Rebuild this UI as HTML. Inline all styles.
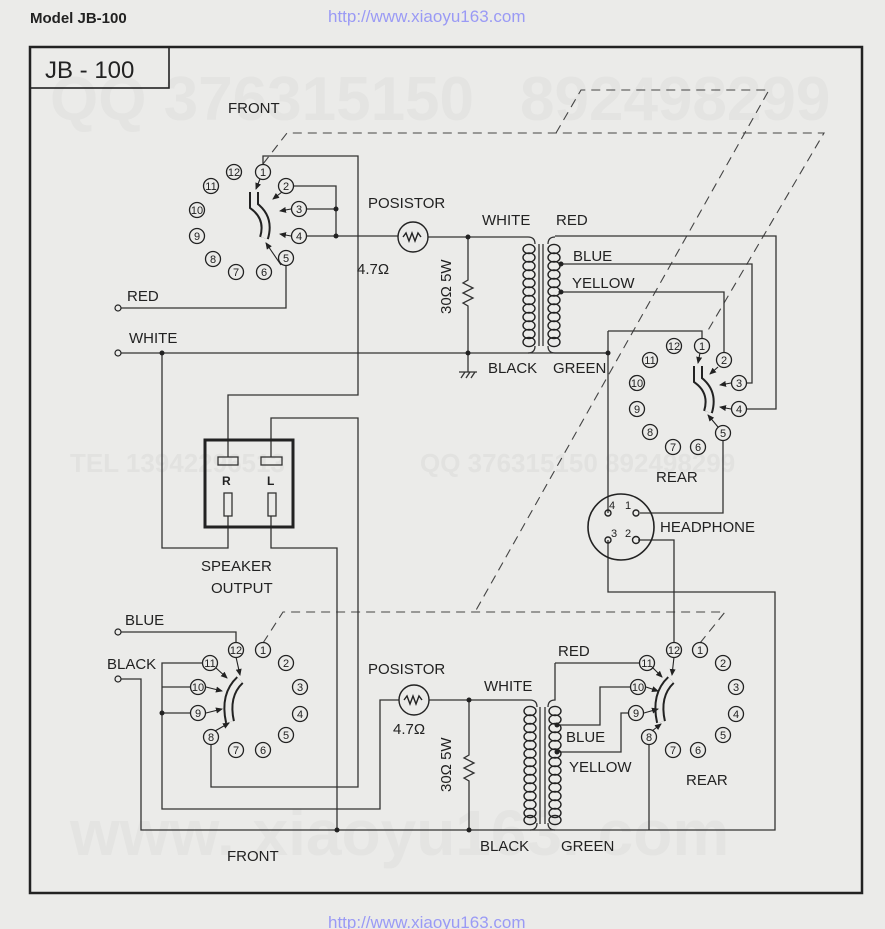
<!DOCTYPE html>
<html><head><meta charset="utf-8"><style>
html,body{margin:0;padding:0;background:#ebebe9;}
svg{display:block;}
text{font-family:"Liberation Sans Narrow","Liberation Sans",sans-serif;fill:#222;}
.l{font-size:15px;}
.p{font-size:11px;text-anchor:middle;}
</style></head><body>
<svg width="885" height="929" viewBox="0 0 885 929" xmlns="http://www.w3.org/2000/svg">
<defs>
<ellipse id="lp" rx="6" ry="4.6" fill="none" stroke="#222" stroke-width="1.4"/>
<g id="pin"><circle r="7.5" fill="none" stroke="#222" stroke-width="1.3"/></g>
<marker id="ah" markerWidth="8" markerHeight="8" refX="6" refY="3" orient="auto" markerUnits="userSpaceOnUse"><path d="M0,0 L7,3 L0,6 z" fill="#222"/></marker>
</defs>
<rect width="885" height="929" fill="#ebebe9"/>
<g font-weight="bold" font-family="Liberation Sans,sans-serif">
<text x="50" y="120" font-size="62" style="fill:#e4e4e2">QQ 376315150</text>
<text x="520" y="120" font-size="62" style="fill:#e4e4e2">892498299</text>
<text x="70" y="472" font-size="26" style="fill:#e2e2e0">TEL 13942296513</text>
<text x="420" y="472" font-size="26" style="fill:#e2e2e0">QQ 376315150  892498299</text>
<text x="70" y="855" font-size="64" style="fill:#e4e4e2">www. xiaoyu163. com</text>
</g>
<text x="30" y="23" style="font-family:'Liberation Sans',sans-serif;font-size:15px;font-weight:bold">Model JB-100</text>
<text x="328" y="22" style="font-family:'Liberation Sans',sans-serif;font-size:17px;fill:#9a9af5">http://www.xiaoyu163.com</text>
<text x="328" y="928" style="font-family:'Liberation Sans',sans-serif;font-size:17px;fill:#9a9af5">http://www.xiaoyu163.com</text>
<rect x="30" y="47" width="832" height="846" fill="none" stroke="#222" stroke-width="2.5"/>
<rect x="30" y="47" width="139" height="41" fill="none" stroke="#222" stroke-width="1.6"/>
<text x="45" y="78" style="font-size:24px">JB - 100</text>

<g fill="none" stroke="#333" stroke-width="1.3">
<g stroke-dasharray="9,6" stroke="#444" stroke-width="1.1">
<path d="M556,133 L581,90 L769,90 L475,612"/>
<path d="M263,164 L287,133 L824,133 L707,332"/>
<path d="M263,643 L283,612 L725,612 L700,643"/>
</g>
<path d="M263,165 V156 H358 V395 H228 V457"/>
<path d="M293,186 H336 V236"/>
<path d="M306,209 H336"/>
<path d="M306,236 H398"/>
<path d="M428,237 H528"/>
<path d="M286,265 V308 H121"/>
<path d="M121,353 H608"/>
<path d="M162,353 V548 H228 V516"/>
<path d="M271,457 V418 H358 V787 H211 V744"/>
<path d="M271,516 V548 H337 V830"/>
<path d="M468,237 V280 l-5,3 l10,5 l-10,5 l10,5 l-10,5 l5,3 V353"/>
<path d="M468,353 V372 M459,372 H477 M461,378 l4,-6 M466,378 l4,-6 M471,378 l4,-6"/>
<path d="M528,237 q7,0 7,7 M528,353 q7,0 7,-7"/>
<path d="M539,244 V346 M543,244 V346"/>
<path d="M555,237 q-7,0 -7,7 M555,353 q-7,0 -7,-7"/>
<path d="M555,236 H776 V409 H746"/>
<path d="M561,264 H752 V383 H746"/>
<path d="M561,292 H724 V353"/>
<path d="M555,353 H608"/>
<path d="M608,331 H702 V339"/>
<path d="M608,331 V513"/>
<path d="M723,440 V513 H640"/>
<path d="M608,540 V592 H775 V830 H555"/>
<path d="M638,540 H674 V643"/>
<rect x="205" y="440" width="88" height="87" stroke="#222" stroke-width="3"/>
<rect x="218" y="457" width="20" height="8"/>
<rect x="261" y="457" width="21" height="8"/>
<rect x="224" y="493" width="8" height="23"/>
<rect x="268" y="493" width="8" height="23"/>
<path d="M121,632 H236 V643"/>
<path d="M121,679 H141 V830 H337 M337,830 H555"/>
<path d="M203,663 H162 V809 H380 V700 H399"/>
<path d="M162,713 H191"/>
<path d="M162,687 H191"/>
<path d="M429,700 H530"/>
<path d="M469,700 V755 l-5,3 l10,5 l-10,5 l10,5 l-10,5 l5,3 V830"/>
<path d="M530,700 q7,0 7,7 M530,830 q7,0 7,-7"/>
<path d="M540,707 V824 M545,707 V824"/>
<path d="M555,663 V700 q-7,0 -7,7 M555,830 q-7,0 -7,-7"/>
<path d="M555,663 H640"/>
<path d="M557,725 H600 V687 H631"/>
<path d="M557,752 H621 V713 H629"/>
<path d="M649,744 V830"/>
</g>
<g fill="#222">
<circle cx="336" cy="209" r="2.5"/><circle cx="336" cy="236" r="2.5"/>
<circle cx="468" cy="237" r="2.5"/><circle cx="468" cy="353" r="2.5"/>
<circle cx="162" cy="353" r="2.5"/><circle cx="608" cy="353" r="2.5"/>
<circle cx="561" cy="264" r="2.5"/><circle cx="561" cy="292" r="2.5"/>
<circle cx="162" cy="713" r="2.5"/><circle cx="337" cy="830" r="2.5"/>
<circle cx="469" cy="700" r="2.5"/><circle cx="469" cy="830" r="2.5"/>
<circle cx="557" cy="725" r="2.5"/><circle cx="557" cy="752" r="2.5"/>
</g>
<g fill="#ebebe9" stroke="#222" stroke-width="1.2">
<circle cx="118" cy="308" r="3"/><circle cx="118" cy="353" r="3"/>
<circle cx="118" cy="632" r="3"/><circle cx="118" cy="679" r="3"/>
</g>
<g fill="none" stroke="#222" stroke-width="1.4">
<circle cx="413" cy="237" r="15"/><path d="M403,237 l3,-4 l3,8 l3,-8 l3,8 l3,-8 l3,4"/>
<circle cx="414" cy="700" r="15"/><path d="M404,700 l3,-4 l3,8 l3,-8 l3,8 l3,-8 l3,4"/>
<circle cx="621" cy="527" r="33" stroke-width="1.6"/>
<circle cx="608" cy="513" r="3"/><circle cx="636" cy="513" r="3"/>
<circle cx="608" cy="540" r="3"/><circle cx="636" cy="540" r="3.5"/>
</g>
<text x="612" y="509" class="p">4</text><text x="628" y="509" class="p">1</text>
<text x="614" y="537" class="p">3</text><text x="628" y="537" class="p">2</text>
<g>
<use href="#lp" x="529" y="249"/><use href="#lp" x="529" y="257.5"/><use href="#lp" x="529" y="266"/><use href="#lp" x="529" y="274.5"/><use href="#lp" x="529" y="283"/><use href="#lp" x="529" y="291.5"/><use href="#lp" x="529" y="300"/><use href="#lp" x="529" y="308.5"/><use href="#lp" x="529" y="317"/><use href="#lp" x="529" y="325.5"/><use href="#lp" x="529" y="334"/><use href="#lp" x="529" y="342"/>
<use href="#lp" x="554" y="249"/><use href="#lp" x="554" y="257.5"/><use href="#lp" x="554" y="266"/><use href="#lp" x="554" y="274.5"/><use href="#lp" x="554" y="283"/><use href="#lp" x="554" y="291.5"/><use href="#lp" x="554" y="300"/><use href="#lp" x="554" y="308.5"/><use href="#lp" x="554" y="317"/><use href="#lp" x="554" y="325.5"/><use href="#lp" x="554" y="334"/><use href="#lp" x="554" y="342"/>
<use href="#lp" x="530" y="711"/><use href="#lp" x="530" y="719.5"/><use href="#lp" x="530" y="728"/><use href="#lp" x="530" y="736.5"/><use href="#lp" x="530" y="745"/><use href="#lp" x="530" y="753.5"/><use href="#lp" x="530" y="762"/><use href="#lp" x="530" y="770.5"/><use href="#lp" x="530" y="779"/><use href="#lp" x="530" y="787.5"/><use href="#lp" x="530" y="796"/><use href="#lp" x="530" y="804.5"/><use href="#lp" x="530" y="813"/><use href="#lp" x="530" y="820"/>
<use href="#lp" x="555" y="711"/><use href="#lp" x="555" y="719.5"/><use href="#lp" x="555" y="728"/><use href="#lp" x="555" y="736.5"/><use href="#lp" x="555" y="745"/><use href="#lp" x="555" y="753.5"/><use href="#lp" x="555" y="762"/><use href="#lp" x="555" y="770.5"/><use href="#lp" x="555" y="779"/><use href="#lp" x="555" y="787.5"/><use href="#lp" x="555" y="796"/><use href="#lp" x="555" y="804.5"/><use href="#lp" x="555" y="813"/><use href="#lp" x="555" y="820"/>
</g>
<g fill="none" stroke-linecap="butt">
<path d="M254,192 L254,206 Q270,218 264,238" stroke="#222" stroke-width="10"/><path d="M254,192 L254,206 Q270,218 264,238" stroke="#ebebe9" stroke-width="6"/>
<path d="M698,366 L698,380 Q714,392 708,412" stroke="#222" stroke-width="10"/><path d="M698,366 L698,380 Q714,392 708,412" stroke="#ebebe9" stroke-width="6"/>
<path d="M240,680 Q224,695 230,722" stroke="#222" stroke-width="10"/><path d="M240,680 Q224,695 230,722" stroke="#ebebe9" stroke-width="6"/>
<path d="M671,680 Q655,695 661,722" stroke="#222" stroke-width="10"/><path d="M671,680 Q655,695 661,722" stroke="#ebebe9" stroke-width="6"/>
</g>
<g stroke="#222" stroke-width="1.1" fill="none" marker-end="url(#ah)">
<path d="M260,179 L256,189"/><path d="M282,192 L273,199"/><path d="M291,209 L280,211"/><path d="M291,236 L280,234"/><path d="M281,265 L266,243"/>
<path d="M700,353 L698,363"/><path d="M718,367 L710,374"/><path d="M731,383 L720,385"/><path d="M731,409 L720,407"/><path d="M718,427 L708,415"/>
<path d="M236,657 L240,675"/><path d="M216,668 L227,678"/><path d="M206,687 L222,691"/><path d="M206,713 L222,709"/><path d="M215,731 L229,723"/>
<path d="M674,657 L672,675"/><path d="M652,667 L662,677"/><path d="M646,687 L658,691"/><path d="M644,713 L658,709"/><path d="M652,731 L661,724"/>
</g>
<g>
<use href="#pin" x="263" y="172"/><use href="#pin" x="286" y="186"/><use href="#pin" x="299" y="209"/><use href="#pin" x="299" y="236"/><use href="#pin" x="286" y="258"/><use href="#pin" x="264" y="272"/><use href="#pin" x="236" y="272"/><use href="#pin" x="213" y="259"/><use href="#pin" x="197" y="236"/><use href="#pin" x="197" y="210"/><use href="#pin" x="211" y="186"/><use href="#pin" x="234" y="172"/>
<use href="#pin" x="702" y="346"/><use href="#pin" x="724" y="360"/><use href="#pin" x="739" y="383"/><use href="#pin" x="739" y="409"/><use href="#pin" x="723" y="433"/><use href="#pin" x="698" y="447"/><use href="#pin" x="673" y="447"/><use href="#pin" x="650" y="432"/><use href="#pin" x="637" y="409"/><use href="#pin" x="637" y="383"/><use href="#pin" x="650" y="360"/><use href="#pin" x="674" y="346"/>
<use href="#pin" x="236" y="650"/><use href="#pin" x="263" y="650"/><use href="#pin" x="286" y="663"/><use href="#pin" x="300" y="687"/><use href="#pin" x="300" y="714"/><use href="#pin" x="286" y="735"/><use href="#pin" x="263" y="750"/><use href="#pin" x="236" y="750"/><use href="#pin" x="211" y="737"/><use href="#pin" x="198" y="713"/><use href="#pin" x="198" y="687"/><use href="#pin" x="210" y="663"/>
<use href="#pin" x="674" y="650"/><use href="#pin" x="700" y="650"/><use href="#pin" x="723" y="663"/><use href="#pin" x="736" y="687"/><use href="#pin" x="736" y="714"/><use href="#pin" x="723" y="735"/><use href="#pin" x="698" y="750"/><use href="#pin" x="673" y="750"/><use href="#pin" x="649" y="737"/><use href="#pin" x="636" y="713"/><use href="#pin" x="638" y="687"/><use href="#pin" x="647" y="663"/>
</g>
<g>
<text x="263" y="176" class="p">1</text><text x="286" y="190" class="p">2</text><text x="299" y="213" class="p">3</text><text x="299" y="240" class="p">4</text><text x="286" y="262" class="p">5</text><text x="264" y="276" class="p">6</text><text x="236" y="276" class="p">7</text><text x="213" y="263" class="p">8</text><text x="197" y="240" class="p">9</text><text x="197" y="214" class="p">10</text><text x="211" y="190" class="p">11</text><text x="234" y="176" class="p">12</text>
<text x="702" y="350" class="p">1</text><text x="724" y="364" class="p">2</text><text x="739" y="387" class="p">3</text><text x="739" y="413" class="p">4</text><text x="723" y="437" class="p">5</text><text x="698" y="451" class="p">6</text><text x="673" y="451" class="p">7</text><text x="650" y="436" class="p">8</text><text x="637" y="413" class="p">9</text><text x="637" y="387" class="p">10</text><text x="650" y="364" class="p">11</text><text x="674" y="350" class="p">12</text>
<text x="236" y="654" class="p">12</text><text x="263" y="654" class="p">1</text><text x="286" y="667" class="p">2</text><text x="300" y="691" class="p">3</text><text x="300" y="718" class="p">4</text><text x="286" y="739" class="p">5</text><text x="263" y="754" class="p">6</text><text x="236" y="754" class="p">7</text><text x="211" y="741" class="p">8</text><text x="198" y="717" class="p">9</text><text x="198" y="691" class="p">10</text><text x="210" y="667" class="p">11</text>
<text x="674" y="654" class="p">12</text><text x="700" y="654" class="p">1</text><text x="723" y="667" class="p">2</text><text x="736" y="691" class="p">3</text><text x="736" y="718" class="p">4</text><text x="723" y="739" class="p">5</text><text x="698" y="754" class="p">6</text><text x="673" y="754" class="p">7</text><text x="649" y="741" class="p">8</text><text x="636" y="717" class="p">9</text><text x="638" y="691" class="p">10</text><text x="647" y="667" class="p">11</text>
</g>
<g>
<text x="228" y="113" class="l">FRONT</text>
<text x="368" y="208" class="l">POSISTOR</text>
<text x="357" y="274" class="l">4.7Ω</text>
<text x="482" y="225" class="l">WHITE</text>
<text x="556" y="225" class="l">RED</text>
<text x="573" y="261" class="l">BLUE</text>
<text x="572" y="288" class="l">YELLOW</text>
<text x="488" y="373" class="l">BLACK</text>
<text x="553" y="373" class="l">GREEN</text>
<text x="127" y="301" class="l">RED</text>
<text x="129" y="343" class="l">WHITE</text>
<text x="222" y="485" style="font-size:12px;font-weight:bold">R</text>
<text x="267" y="485" style="font-size:12px;font-weight:bold">L</text>
<text x="201" y="571" class="l">SPEAKER</text>
<text x="211" y="593" class="l">OUTPUT</text>
<text x="656" y="482" class="l">REAR</text>
<text x="660" y="532" class="l">HEADPHONE</text>
<text x="125" y="625" class="l">BLUE</text>
<text x="107" y="669" class="l">BLACK</text>
<text x="368" y="674" class="l">POSISTOR</text>
<text x="393" y="734" class="l">4.7Ω</text>
<text x="484" y="691" class="l">WHITE</text>
<text x="558" y="656" class="l">RED</text>
<text x="566" y="742" class="l">BLUE</text>
<text x="569" y="772" class="l">YELLOW</text>
<text x="686" y="785" class="l">REAR</text>
<text x="480" y="851" class="l">BLACK</text>
<text x="561" y="851" class="l">GREEN</text>
<text x="227" y="861" class="l">FRONT</text>
<text transform="translate(451,314) rotate(-90)" class="l">30Ω 5W</text>
<text transform="translate(451,792) rotate(-90)" class="l">30Ω 5W</text>
</g>
</svg>
</body></html>
